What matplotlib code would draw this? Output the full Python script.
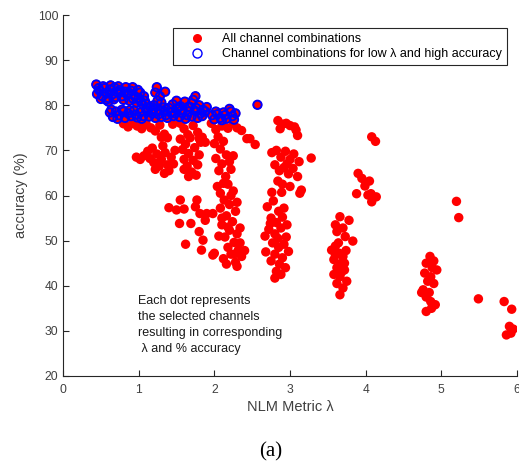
import matplotlib
matplotlib.use("Agg")
import matplotlib.pyplot as plt
from matplotlib.lines import Line2D

plt.rcParams['font.family'] = ['Liberation Sans', 'DejaVu Sans']

# Channel combinations with low lambda and high accuracy (blue circles, also red)
hi_x = [0.44, 0.45, 0.48, 0.52, 0.55, 0.58, 0.60, 0.62, 0.65, 0.68, 0.70, 0.72, 0.75, 0.78,
        0.80, 0.82, 0.85, 0.88, 0.90, 0.92, 0.95, 0.97, 1.00, 1.02, 1.05, 1.08, 0.60, 0.50,
        0.47, 0.53, 0.57, 0.63, 0.67, 0.73, 0.77, 0.83, 0.87, 0.93, 0.99, 1.03, 1.07, 1.10,
        1.12,
        1.24, 1.22, 1.28, 1.25, 1.20, 1.30, 1.33, 1.27, 1.18, 1.35, 1.15,
        0.62, 0.66, 0.70, 0.74, 0.78, 0.82, 0.86, 0.90, 0.94, 0.98, 1.02, 1.06, 1.10, 1.14,
        1.18, 1.22, 1.26, 1.30, 1.34, 1.38, 1.42, 1.46, 1.50, 1.54, 1.58, 1.62, 1.66, 1.70,
        1.74, 1.78, 1.82,
        0.64, 0.72, 0.80, 0.88, 0.96, 1.04, 1.12, 1.20, 1.28, 1.36, 1.40, 1.48, 1.56, 1.64,
        1.68, 1.76, 1.84, 1.88,
        1.45, 1.50, 1.55, 1.61, 1.65, 1.70, 1.75, 1.80, 1.85, 1.90, 1.72, 1.45, 1.52,
        1.97, 2.00, 2.04, 2.08, 2.12, 2.16, 2.20, 2.24, 2.28, 2.10, 2.02, 2.14, 2.22, 2.26,
        2.57]
hi_y = [84.6, 82.5, 83.3, 82.0, 83.8, 82.8, 81.6, 83.5, 82.4, 83.9, 81.8, 82.9, 83.4, 82.0,
        81.2, 83.0, 82.3, 81.0, 83.2, 84.0, 82.0, 80.6, 81.6, 82.8, 80.2, 81.0, 80.8, 81.4,
        83.8, 84.2, 81.2, 84.4, 81.3, 84.2, 83.0, 84.0, 82.8, 81.4, 83.4, 80.8, 82.0, 80.3,
        79.4,
        84.0, 82.8, 82.0, 81.0, 80.0, 80.6, 79.5, 79.0, 78.8, 83.0, 79.6,
        78.4, 77.4, 78.6, 77.8, 79.0, 77.2, 78.2, 77.6, 78.8, 77.3, 78.4, 77.6, 79.0, 77.5,
        78.2, 77.2, 78.0, 77.4, 78.6, 77.2, 78.4, 77.6, 79.2, 77.4, 78.2, 77.0, 78.6, 77.5,
        78.8, 77.2, 78.2,
        79.0, 77.0, 78.6, 78.9, 77.9, 77.0, 78.6, 79.2, 78.8, 77.8, 79.4, 78.2, 78.8, 77.8,
        79.6, 79.4, 77.6, 78.6,
        80.2, 81.0, 79.8, 80.8, 79.6, 80.4, 82.0, 80.0, 79.0, 79.6, 81.2, 78.6, 79.4,
        77.8, 76.9, 78.0, 77.2, 78.4, 77.0, 79.2, 77.6, 78.2, 76.7, 78.6, 77.8, 78.6, 76.8,
        80.1]

# Remaining channel combinations (red only)
lo_x = [0.80, 0.86, 0.92, 0.98, 1.04, 1.10, 1.16, 1.22, 1.28, 1.34, 1.38, 1.30, 1.45, 1.55,
        1.60, 1.65, 1.72, 1.78, 1.84, 1.88, 1.80, 1.96, 2.02, 2.10, 2.18, 2.25, 2.30, 2.36,
        2.43, 2.47, 2.54,
        0.97, 1.02, 1.07, 1.12, 1.15, 1.18, 1.20, 1.24, 1.27, 1.30, 1.32, 1.35, 1.38, 1.40,
        1.43, 1.46, 1.48, 1.22, 1.34,
        1.55, 1.58, 1.60, 1.62, 1.64, 1.66, 1.68, 1.70, 1.72, 1.74, 1.76, 1.78, 1.80, 1.82,
        1.66, 1.60,
        1.40, 1.54, 1.55, 1.62, 1.69, 1.77, 1.81, 1.75, 1.90, 1.85, 1.83, 1.98, 1.88, 1.80,
        1.60, 1.50,
        2.05, 2.00, 2.08, 2.12, 2.16, 2.02, 2.10, 2.20, 2.06, 2.15, 2.22, 2.18, 2.12, 2.25,
        2.13, 2.20, 2.08, 2.28, 2.16, 2.24, 2.10, 2.20, 2.30, 2.14, 2.26, 2.18, 2.32, 2.22,
        2.36, 2.12, 2.28, 2.30, 1.98, 2.00, 2.34, 2.06, 2.25, 2.40,
        2.04, 2.22, 2.30, 2.18, 2.26, 2.16, 2.34, 2.08, 2.10,
        2.84, 2.90, 2.95, 3.00, 3.06, 3.10, 3.08, 2.87,
        2.76, 2.82, 2.88, 2.94, 3.00, 3.05, 3.12, 2.80, 2.86, 2.92, 2.98, 3.04, 3.10, 2.84,
        2.90, 3.00, 3.15, 3.13, 2.76, 2.89, 3.28, 2.96,
        2.70, 2.78, 2.85, 2.75, 2.82, 2.90, 2.72, 2.80, 2.88, 2.95, 2.77, 2.85, 2.92, 2.68,
        2.80, 2.90, 2.98, 2.75, 2.86, 2.94, 2.82, 2.80, 2.67, 2.96,
        2.84, 2.74, 2.92, 2.88,
        3.66, 3.78, 3.62, 3.73, 3.83, 3.55, 3.60, 3.65, 3.70, 3.58, 3.68, 3.62, 3.72, 3.58,
        3.66, 3.75, 3.62, 3.70, 3.66, 3.74, 3.60, 3.70,
        3.64, 3.68, 3.60, 3.72,
        4.08, 4.13, 3.90, 3.95, 4.05, 3.99, 3.88, 4.03, 4.14, 4.08, 4.07,
        4.85, 4.90, 4.80, 4.94, 4.78, 4.86, 4.82, 4.90, 4.76, 4.84, 4.80, 4.86, 4.87, 4.80,
        4.92, 4.74, 4.88,
        5.20, 5.23, 5.49, 5.83, 5.93, 5.90, 5.86, 5.92, 5.95]
lo_y = [75.9, 75.2, 76.0, 75.4, 74.8, 75.8, 75.0, 74.3, 75.6, 73.6, 72.8, 72.9, 75.8, 76.0,
        74.8, 73.5, 75.5, 74.0, 72.9, 71.8, 72.6, 76.0, 74.6, 75.4, 74.9, 76.0, 75.0, 74.4,
        72.6, 72.6, 71.3,
        68.5, 68.0, 68.8, 69.8, 68.2, 70.5, 67.3, 69.2, 66.5, 68.0, 71.0, 69.5, 66.8, 65.5,
        68.5, 67.0, 70.0, 65.8, 64.9,
        72.5, 70.2, 68.0, 71.4, 66.5, 69.3, 72.8, 65.2, 67.8, 70.6, 64.5, 66.8, 69.0, 71.8,
        64.2, 65.8,
        57.3, 53.8, 59.0, 49.2, 53.8, 59.0, 56.0, 57.5, 56.0, 50.1, 47.9, 46.8, 54.5, 52.0,
        57.0, 56.8,
        73.0, 71.5, 70.3, 72.0, 69.0, 68.2, 67.0, 67.5, 65.5, 64.2, 65.8, 62.5, 62.7, 61.0,
        59.0, 58.0, 57.2, 56.5, 55.5, 54.2, 53.5, 52.3, 51.5, 50.8, 49.6, 48.5, 48.0, 47.0,
        46.5, 46.0, 45.2, 44.3, 56.0, 47.2, 52.8, 51.0, 68.8, 47.8,
        62.0, 60.0, 58.5, 53.0, 47.0, 44.8, 49.5, 60.5, 55.0,
        76.6, 75.8, 76.0, 75.5, 75.2, 73.3, 74.5, 74.8,
        69.5, 70.0, 68.5, 69.8, 68.0, 69.2, 67.5, 66.8, 65.5, 66.2, 64.8, 66.0, 64.2, 63.2,
        62.5, 62.0, 61.2, 60.5, 60.7, 60.7, 68.3, 67.0,
        57.5, 58.8, 56.5, 55.0, 54.0, 55.2, 52.5, 51.5, 52.8, 50.8, 49.5, 48.5, 49.2, 47.5,
        47.0, 46.2, 47.6, 45.5, 44.8, 44.0, 43.2, 41.7, 51.0, 53.5,
        50.5, 53.8, 57.2, 42.5,
        55.3, 54.5, 52.0, 50.9, 49.9, 47.9, 48.8, 47.2, 46.5, 45.8, 45.0, 44.0, 43.5, 42.5,
        42.0, 41.0, 40.5, 39.5, 38.0, 47.8, 53.5, 52.8,
        49.5, 43.0, 46.8, 45.0,
        73.0, 72.0, 64.9, 63.8, 63.2, 62.1, 60.4, 60.1, 59.7, 58.6, 60.4,
        46.5, 45.5, 45.0, 43.5, 42.8, 42.0, 41.0, 40.5, 39.1, 38.5, 37.5, 36.5, 35.0, 34.3,
        35.8, 38.5, 44.0,
        58.7, 55.1, 37.1, 36.5, 34.8, 31.0, 29.1, 29.5, 30.4]

x_ticks = [0, 1, 2, 3, 4, 5, 6]
y_ticks = [20, 30, 40, 50, 60, 70, 80, 90, 100]

W, H = 519, 463
fig = plt.figure(figsize=(W / 100, H / 100), dpi=100)
ax = fig.add_axes([63 / W, 1 - 376 / H, 454 / W, 361 / H])

all_x = lo_x + hi_x
all_y = lo_y + hi_y
ax.scatter(all_x, all_y, s=46, c='#ff0000', edgecolors='none', zorder=2)
ax.scatter(hi_x, hi_y, s=36, facecolors='none', edgecolors='#0000ff', linewidths=1.4, zorder=3)

ax.set_xlim(0, 6)
ax.set_ylim(20, 100)
ax.set_xticks(x_ticks)
ax.set_yticks(y_ticks)
ax.spines['top'].set_visible(False)
ax.spines['right'].set_visible(False)
for sp in ('left', 'bottom'):
    ax.spines[sp].set_color('#262626')
    ax.spines[sp].set_linewidth(0.8)
ax.tick_params(direction='in', length=4, width=0.8, colors='#262626', labelsize=8.7,
               labelcolor='#404040')
ax.tick_params(axis='x', pad=5.5)
ax.set_xlabel('NLM Metric λ', fontsize=10.5, color='#404040', labelpad=3)
ax.set_ylabel('accuracy (%)', fontsize=10.5, color='#404040', labelpad=7)

handles = [Line2D([], [], ls='none', marker='o', ms=6.5, mfc='#ff0000', mec='none'),
           Line2D([], [], ls='none', marker='o', ms=6.5, mfc='none', mec='#0000ff', mew=1.0)]
leg = ax.legend(handles, ['All channel combinations',
                          'Channel combinations for low λ and high accuracy'],
                loc='upper right', bbox_to_anchor=(0.977, 0.964), fontsize=9,
                fancybox=False, framealpha=1, edgecolor='#262626', borderpad=0.4,
                handlelength=3.0, handletextpad=0.5, labelspacing=0.25, borderaxespad=0)
leg.get_frame().set_linewidth(0.8)

ax.text(0.99, 37.9, 'Each dot represents\nthe selected channels\nresulting in corresponding\n λ and % accuracy',
        fontsize=9, va='top', ha='left', linespacing=1.45, color='#1a1a1a')

fig.text(271 / W, 1 - 452 / H, '(a)', fontsize=15, family='Liberation Serif',
         ha='center', va='center')

fig.savefig('out.png', dpi=100)
